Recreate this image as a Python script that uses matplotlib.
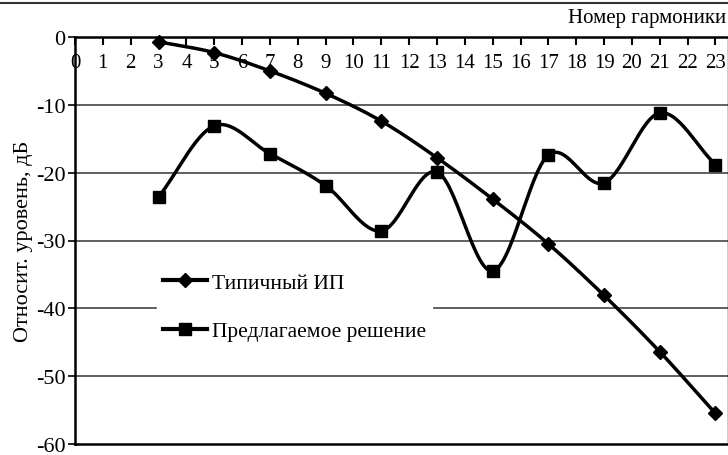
import numpy as np
import matplotlib
matplotlib.use("Agg")
import matplotlib.pyplot as plt
from matplotlib.lines import Line2D

harmonics = [3, 5, 7, 9, 11, 13, 15, 17, 19, 21, 23]
typical = [-0.7, -2.3, -5.0, -8.3, -12.4, -17.8, -23.9, -30.5, -38.1, -46.4, -55.5]
proposed = [-23.6, -13.1, -17.2, -21.9, -28.6, -19.9, -34.5, -17.4, -21.5, -11.2, -18.8]
x_ticks = list(range(0, 24))
y_ticks = [0, -10, -20, -30, -40, -50, -60]
label_typical = "Типичный ИП"
label_proposed = "Предлагаемое решение"
xlabel = "Номер гармоники"
ylabel = "Относит. уровень, дБ"


def smooth(xs, ys, n=30):
    # Catmull-Rom spline (Excel-like smoothed line) through the data points
    xs = np.asarray(xs, float)
    ys = np.asarray(ys, float)
    px = np.concatenate([[2 * xs[0] - xs[1]], xs, [2 * xs[-1] - xs[-2]]])
    py = np.concatenate([[2 * ys[0] - ys[1]], ys, [2 * ys[-1] - ys[-2]]])
    ox, oy = [], []
    t = np.linspace(0, 1, n, endpoint=False)
    for i in range(1, len(px) - 2):
        for P, out in ((px, ox), (py, oy)):
            p0, p1, p2, p3 = P[i - 1], P[i], P[i + 1], P[i + 2]
            v = 0.5 * ((2 * p1) + (-p0 + p2) * t + (2 * p0 - 5 * p1 + 4 * p2 - p3) * t ** 2
                       + (-p0 + 3 * p1 - 3 * p2 + p3) * t ** 3)
            out.extend(v)
    ox.append(xs[-1]); oy.append(ys[-1])
    return np.array(ox), np.array(oy)


plt.rcParams['font.family'] = ['Liberation Serif', 'DejaVu Serif']

fig = plt.figure(figsize=(7.28, 4.56), dpi=100)
bottom_px = 445
ax = fig.add_axes([75 / 728, 1 - bottom_px / 456, (728 - 75) / 728, (bottom_px - 38) / 456])

ax.set_xlim(0, 23.45)
ax.set_ylim(-60, 0)

for yv in y_ticks[1:-1]:
    ax.axhline(yv, color='#444444', lw=1.2, zorder=1)

sx, sy = smooth(harmonics, typical)
ax.plot(sx, sy, color='black', lw=2.5, zorder=3, clip_on=False)
ax.plot(harmonics, typical, ls='none', marker='D', ms=7, color='black', zorder=4, clip_on=False)
sx, sy = smooth(harmonics, proposed)
ax.plot(sx, sy, color='black', lw=2.5, zorder=3)
ax.plot(harmonics, proposed, ls='none', marker='s', ms=9, color='black', zorder=4)

ax.set_xticks(x_ticks)
ax.set_yticks(y_ticks)
ax.set_yticklabels([str(v) for v in y_ticks])
ax.xaxis.tick_top()
ax.tick_params(axis='x', top=True, bottom=False, labeltop=True, labelbottom=False,
               direction='in', length=6, width=1.5, pad=-25, labelsize=15)
ax.tick_params(axis='y', direction='out', length=5, width=1.2, labelsize=16, pad=2)

for s in ['top', 'left', 'bottom', 'right']:
    ax.spines[s].set_linewidth(1.8)
ax.spines['right'].set_linewidth(1.0)

ax.set_ylabel(ylabel, fontsize=16, labelpad=2)
fig.text(726 / 728, 1 - 18 / 456, xlabel, ha='right', va='center', fontsize=15)

fig.add_artist(Line2D([0, 1], [1 - 4 / 456, 1 - 4 / 456], color='#333333', lw=1.5))

handles = [Line2D([], [], color='black', lw=3, marker='D', ms=7),
           Line2D([], [], color='black', lw=3, marker='s', ms=9)]
leg = ax.legend(handles, [label_typical, label_proposed], loc='center left',
                bbox_to_anchor=((157 - 75) / 653, (bottom_px - 308) / (bottom_px - 38)), frameon=True,
                fontsize=15.5, handlelength=2.0, handletextpad=0.25, labelspacing=1.3,
                borderpad=0.3, borderaxespad=0, fancybox=False)
leg.get_frame().set_edgecolor('white')
leg.get_frame().set_facecolor('white')
leg.get_frame().set_alpha(1)

fig.savefig('out.png', dpi=100)
